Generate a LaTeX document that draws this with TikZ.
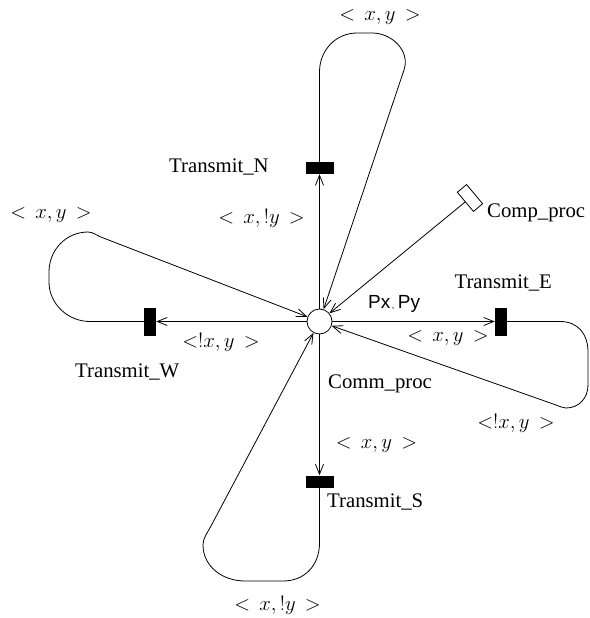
\documentclass[tikz,border=0pt]{standalone}
\usepackage{fontspec}
\setmainfont{Liberation Serif}
\newfontfamily\labelsans{Liberation Sans}
\usetikzlibrary{arrows.meta}
\begin{document}
\begin{tikzpicture}[x=1pt,y=-1pt,
  arc/.style={draw, line width=0.8pt, -{Straight Barb[length=10pt,width=8pt]}},
  place/.style={circle, draw, line width=0.8pt, fill=white, minimum size=25pt, inner sep=0pt},
  trh/.style={rectangle, fill=black, minimum width=28pt, minimum height=12pt, inner sep=0pt},
  trv/.style={rectangle, fill=black, minimum width=12pt, minimum height=28pt, inner sep=0pt},
  compbox/.style={rectangle, draw, line width=0.8pt, fill=white, minimum width=25pt, minimum height=12pt, inner sep=0pt, rotate=-50},
  tname/.style={inner sep=0pt, font=\huge},
  ann/.style={inner sep=0pt, font=\huge},
]
\useasboundingbox (0,0) rectangle (589,618);

% place, transitions and the computing block
\node[place] (c) at (319.5,321.5) {};
\node[trh] (tN) at (319.5,168) {};
\node[trh] (tS) at (319.5,481.5) {};
\node[trv] (tW) at (150,321.5) {};
\node[trv] (tE) at (501,321.5) {};
\node[compbox] (cp) at (470,198) {};

% names
\node[tname, anchor=base west] (nN) at (169,172) {Transmit\_N};
\node[tname, anchor=base west] (nW) at (75,377) {Transmit\_W};
\node[tname, anchor=base east] (nE) at (552,288) {Transmit\_E};
\node[tname, anchor=base west] (nS) at (327,507) {Transmit\_S};
\node[tname, anchor=base west] (nCp) at (487,217) {Comp\_proc};
\node[tname, anchor=base west] (nCm) at (328,388) {Comm\_proc};
\node[inner sep=0pt, anchor=base west, font=\labelsans\fontsize{19}{21}\selectfont] (pxy) at (368,308)
  {Px\kern1.5pt{\fontsize{9}{9}\selectfont,}\kern3.5pt Py};

% arc inscriptions
\node[ann] (aNt) at (380,17) {$<\,x,y\,>$};
\node[ann] (aN) at (261.5,218) {$<\,x,!y\,>$};
\node[ann] (aWt) at (51,215) {$<\,x,y\,>$};
\node[ann] (aW) at (221,342) {$<!x,y\,>$};
\node[ann] (aE) at (448,338) {$<\,x,y\,>$};
\node[ann] (aEb) at (516,423) {$<!x,y\,>$};
\node[ann] (aS) at (376.5,445) {$<\,x,y\,>$};
\node[ann] (aSb) at (277.5,605) {$<\,x,!y\,>$};

% computing block feeds the place
\draw[arc] (cp) -- (c);

% north
\draw[arc] (c) -- (tN);
\draw[arc] (tN.north) -- (319.5,72) .. controls (319.5,50) and (336,33) .. (357,33)
  -- (372,33) .. controls (392,33) and (410.4,51) .. (404,70) -- (c);

% west
\draw[arc] (c) -- (tW);
\draw[arc] (tW.west) -- (90,321.5) .. controls (68,321.5) and (49,304) .. (49,282)
  -- (49,272) .. controls (49,250) and (66,232) .. (88,232)
  .. controls (93,232) and (97.2,235.6) .. (100,236.7) -- (c);

% east
\draw[arc] (c) -- (tE);
\draw[arc] (tE.east) -- (560,321.5) .. controls (578,321.5) and (588,334) .. (588,352)
  -- (588,385) .. controls (588,398) and (579,408) .. (566,408)
  .. controls (562.5,408) and (559.8,406.3) .. (556,405) -- (c);

% south
\draw[arc] (c) -- (tS);
\draw[arc] (tS.south) -- (319.5,543) .. controls (319.5,565) and (305,581) .. (283,581)
  -- (245,581) .. controls (222,581) and (203,566) .. (203,545)
  .. controls (203,538) and (207,533.6) .. (211,526) -- (c);
\end{tikzpicture}
\end{document}
